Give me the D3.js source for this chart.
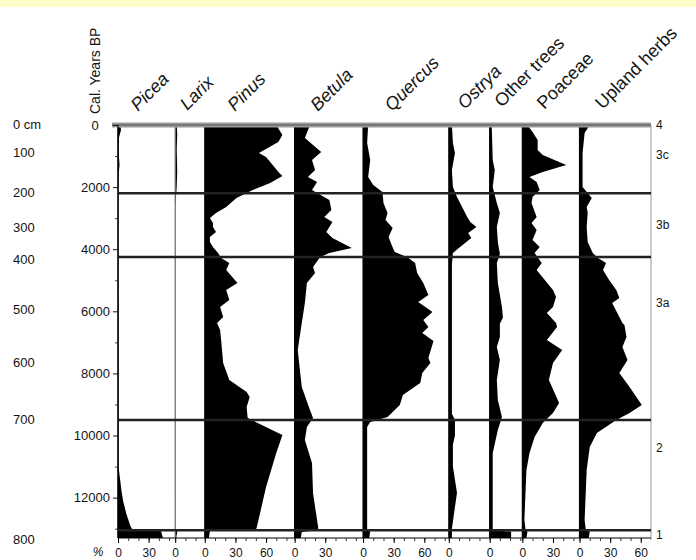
<!DOCTYPE html>
<html><head><meta charset="utf-8">
<script src="https://cdn.jsdelivr.net/npm/d3@7"></script>
<style>body{margin:0;background:#fff}svg{display:block}</style>
</head><body>
<svg id="c" width="696" height="560"></svg>
<script>
// ---------- DATA ----------
const taxa = ["Picea","Larix","Pinus","Betula","Quercus","Ostrya","Other trees","Poaceae","Upland herbs"];
const italicTaxa = [true,true,true,true,true,true,false,false,false];
const panelSpan = [56,29,88,67,84,40,32,56,70];           // % width of each panel
const panelTicks = [[0,30],[0],[0,30,60],[0,30],[0,30,60],[0],[0],[0,30],[0,30,60]];

// [age (cal yr BP), percent]
const picea = [[0,2],[150,3],[400,1],[800,0.5],[1300,1.5],[1600,0.5],[2000,0.3],[11000,0.5],[11400,2],[11800,3.5],[12100,5],[12500,8],[12900,12],[13030,14],[13060,42],[13300,44]];
const larix = [[0,1.5],[300,2],[800,1.5],[1500,2],[2000,1.5],[2300,0.8],[2600,0.3],[13000,0.4],[13100,2],[13300,1]];
const pinus = [[0,70],[322,76],[548,72],[902,53],[1031,60],[1546,73],[1643,76],[1868,64],[2094,47],[2351,31],[2641,21],[2834,11],[2996,5],[3157,8],[3286,8],[3447,11],[3608,5],[3769,5],[3930,8],[4123,13],[4284,16],[4445,24],[4670,21],[5089,32],[5315,21],[5637,24],[5862,15],[6184,18],[6378,12],[6603,15],[6925,16],[7666,18],[8214,24],[8600,41],[8761,44],[9083,41],[9437,42],[9985,76],[10565,70],[11660,60],[12948,51],[13045,50],[13078,5],[13300,4]];
const betula = [[0,15],[419,10],[870,26],[1127,17],[1449,20],[1675,13],[1836,22],[2094,17],[2416,34],[2738,36],[2963,29],[3124,37],[3447,31],[3640,37],[3962,56],[4123,34],[4252,25],[4574,18],[4767,20],[5089,12],[5733,10],[6378,7],[7247,3],[8439,7],[9180,15],[9437,18],[9727,12],[10146,10],[10887,17],[11853,18],[12948,23],[13045,23],[13110,7],[13300,6]];
const quercus = [[0,5],[580,4],[1127,7],[1675,5],[1933,10],[2158,19],[2512,20],[2834,24],[3060,22],[3318,29],[3608,25],[3865,28],[4090,31],[4252,43],[4445,51],[4767,53],[5089,59],[5476,64],[5701,54],[6024,68],[6281,59],[6506,64],[6700,58],[6957,69],[7505,64],[7666,66],[7988,58],[8311,56],[8697,39],[9019,36],[9405,24],[9566,7],[9727,4],[13045,4],[13100,7],[13300,6]];
const ostrya = [[0,3],[580,4],[902,6],[1449,3],[1997,4],[2319,8],[2641,13],[2963,18],[3124,21],[3286,27],[3479,19],[3640,22],[3930,11],[4123,4],[4500,3],[9300,3],[9500,6],[10000,6],[10300,4],[11000,4],[11853,8],[12300,6],[13000,3],[13300,3]];
const otherTrees = [[0,2],[1127,3],[1449,5],[1997,3],[2512,7],[2834,10],[3286,7],[3769,8],[4155,10],[4445,7],[5089,8],[5862,12],[6200,13],[6400,10],[6828,10],[7150,7],[7569,10],[8214,7],[8858,8],[9405,12],[9824,8],[10565,3],[12990,3],[13060,3],[13090,21],[13300,21]];
const poaceae = [[0,5],[225,10],[483,15],[805,15],[966,20],[1288,43],[1514,20],[1675,7],[1836,14],[2094,17],[2319,10],[2512,9],[2963,14],[3157,9],[3382,14],[3704,10],[3930,17],[4123,12],[4445,19],[4670,14],[4992,22],[5315,30],[5540,33],[5862,30],[6056,24],[6378,33],[6506,34],[6925,24],[7247,39],[7666,30],[8214,26],[8955,36],[9277,30],[9598,20],[10049,12],[10565,7],[11112,4],[12722,2],[13000,3],[13100,5],[13300,4]];
const uplandHerbs = [[0,10],[258,5],[902,3],[1997,3],[2351,12],[2641,7],[2834,8],[3286,7],[3769,8],[4123,13],[4284,18],[4445,26],[4670,23],[4992,29],[5315,36],[5573,39],[5733,32],[6378,42],[6443,44],[6828,46],[7150,42],[7569,47],[7988,39],[8439,49],[9019,61],[9277,49],[9501,36],[9920,17],[10372,10],[11112,7],[12722,5],[13000,6],[13100,10],[13300,9]];
const seriesList = [picea,larix,pinus,betula,quercus,ostrya,otherTrees,poaceae,uplandHerbs];

const ageTicks = [0,2000,4000,6000,8000,10000,12000];
const ageMinorTicks = [1000,3000,5000,7000,9000,11000,13000];
const depthLabels = ["0 cm","100","200","300","400","500","600","700","800"];
const depthAges = [0,902,2190,3318,4348,5959,7666,9501,13366];
const zoneBoundaries = [2200,4250,9500,13050];
const zoneNames = ["4","3c","3b","3a","2","1"];
const zoneLabelAges = [0,966,3220,5744,10402,13200];

// ---------- LAYOUT ----------
const L = 118, R = 651, T = 125, B = 538;
const labelDx = [20,12,30,23,29,16,12,22,23];
const labelY = [112,111,112,112,112,110,108,110,110];
const ink = "#141414";
const font = "'Liberation Sans', Arial, Helvetica, sans-serif";

const svg = d3.select("#c").style("font-family", font);
svg.append("rect").attr("width",696).attr("height",560).attr("fill","#fff");
svg.append("rect").attr("width",696).attr("height",7).attr("fill","#fffcc9");

const totalSpan = d3.sum(panelSpan);
const pct = d3.scaleLinear().domain([0,totalSpan]).range([L,R]);
const y = d3.scaleLinear().domain([0,13300]).range([T,B]);
const offsets = panelSpan.map((s,i)=>d3.sum(panelSpan.slice(0,i)));

// silhouettes
seriesList.forEach((data,i)=>{
  const off = offsets[i];
  const area = d3.area()
    .x0(()=>pct(off)).x1(d=>pct(off+d[1])).y(d=>y(d[0]))
    .curve(d3.curveLinear);
  svg.append("path").datum(data).attr("d",area).attr("fill","#000");
  svg.append("line").attr("x1",pct(off)).attr("x2",pct(off))
    .attr("y1",T).attr("y2",B).attr("stroke", i===1? "#777":"#000").attr("stroke-width",1.2);
});

// right border
svg.append("line").attr("x1",R).attr("x2",R).attr("y1",T).attr("y2",B+2)
  .attr("stroke","#999").attr("stroke-width",1);

// zone lines
svg.selectAll(".zone").data(zoneBoundaries).join("line")
  .attr("x1",L).attr("x2",R).attr("y1",d=>y(d)).attr("y2",d=>y(d))
  .attr("stroke","#222").attr("stroke-width",2.6);
// top line
svg.append("line").attr("x1",112).attr("x2",R).attr("y1",T).attr("y2",T)
  .attr("stroke","#9a9a9a").attr("stroke-width",5);
svg.append("line").attr("x1",112).attr("x2",R).attr("y1",T).attr("y2",T)
  .attr("stroke","#555").attr("stroke-width",1.2);

// zone labels
svg.selectAll(".zl").data(zoneNames).join("text")
  .attr("x",656).attr("y",(d,i)=>y(zoneLabelAges[i])+4)
  .attr("font-size",12).attr("fill",ink).text(d=>d);

// age axis
const ageAxis = svg.append("g").attr("transform",`translate(${L},0)`)
  .call(d3.axisLeft(y).tickValues(ageTicks).tickSize(5).tickPadding(3).tickFormat(d3.format("d")));
ageAxis.select(".domain").remove();
ageAxis.selectAll("text").attr("font-size",13).attr("font-family",font).attr("fill",ink);
ageAxis.selectAll("line").attr("stroke",ink);
ageAxis.selectAll(".tick").filter(d=>d===0).select("text").attr("x",-23).attr("text-anchor","middle");
const ageMinor = svg.append("g").attr("transform",`translate(${L},0)`)
  .call(d3.axisLeft(y).tickValues(ageMinorTicks).tickSize(3).tickFormat(""));
ageMinor.select(".domain").remove();
ageMinor.selectAll("line").attr("stroke","#444");
svg.append("line").attr("x1",L).attr("x2",L).attr("y1",T).attr("y2",B).attr("stroke","#000");

// age title
svg.append("text").attr("transform","translate(100,114) rotate(-90)")
  .attr("font-size",14).attr("fill",ink).text("Cal. Years BP");

// depth labels
svg.selectAll(".dl").data(depthLabels).join("text")
  .attr("x",13).attr("y",(d,i)=>y(depthAges[i])+4)
  .attr("font-size",13).attr("fill",ink).text(d=>d);

// bottom axes
svg.append("line").attr("x1",L).attr("x2",R).attr("y1",B).attr("y2",B).attr("stroke","#000").attr("stroke-width",1.2);
panelSpan.forEach((span,i)=>{
  const off = offsets[i];
  const ps = d3.scaleLinear().domain([0,span]).range([pct(off),pct(off+span)]);
  const gMin = svg.append("g").attr("transform",`translate(0,${B})`)
    .call(d3.axisBottom(ps).tickValues(d3.range(0,span,10)).tickSize(3).tickFormat(""));
  gMin.select(".domain").remove();
  gMin.selectAll("line").attr("stroke","#333");
  const gMaj = svg.append("g").attr("transform",`translate(0,${B})`)
    .call(d3.axisBottom(ps).tickValues(panelTicks[i]).tickSize(5).tickPadding(5).tickFormat(d3.format("d")));
  gMaj.select(".domain").remove();
  gMaj.selectAll("line").attr("stroke","#000");
  gMaj.selectAll("text").attr("font-size",12).attr("font-family",font).attr("fill",ink);
});
svg.append("text").attr("x",98).attr("y",556).attr("text-anchor","middle")
  .attr("font-size",12).attr("font-style","italic").attr("fill",ink).text("%");

// taxon labels
taxa.forEach((t,i)=>{
  const x0 = pct(offsets[i]) + labelDx[i];
  svg.append("text").attr("transform",`translate(${x0},${labelY[i]}) rotate(-45)`)
    .attr("font-size",18).attr("font-style",italicTaxa[i]?"italic":"normal")
    .attr("fill",ink).text(t);
});
</script>
</body></html>
